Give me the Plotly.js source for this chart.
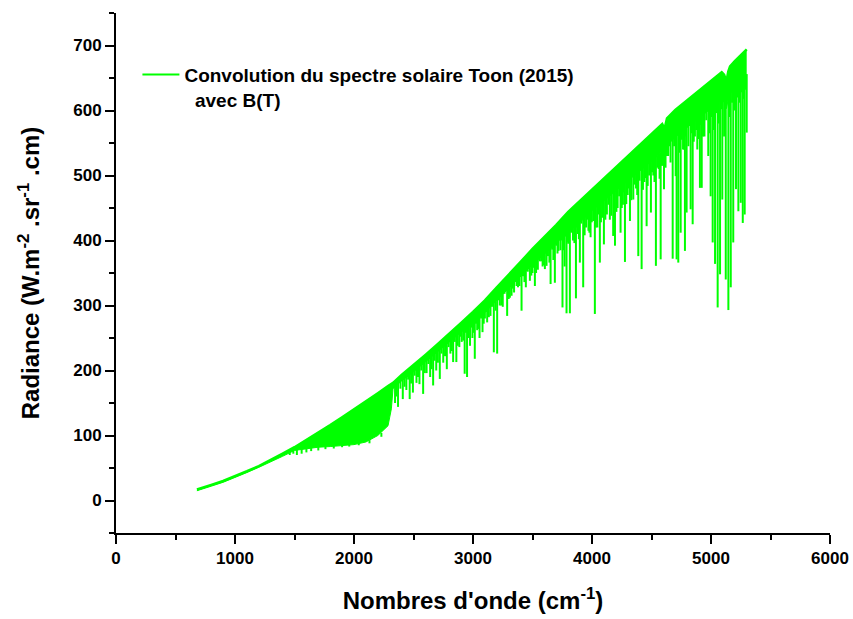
<!DOCTYPE html>
<html>
<head>
<meta charset="utf-8">
<script src="https://cdn.plot.ly/plotly-3.0.1.min.js"></script>
<style>html,body{margin:0;padding:0;background:#fff;}#chart{width:853px;height:619px;}</style>
</head>
<body>
<div id="chart"></div>
<script>
// Spectrum envelope (upper) and dense-band lower edge, wavenumber in cm-1
const bandX = [680,700,800,900,1000,1100,1200,1300,1400,1500,1600,1700,1800,1900,2000,2100,2200,2286,2314,2328,2400,2500,2600,2700,2800,2900,3000,3100,3200,3300,3400,3500,3600,3700,3800,3900,4000,4100,4200,4300,4400,4500,4590,4610,4630,4700,4800,4900,5000,5090,5110,5130,5145,5160,5200,5250,5300];
const bandTop = [17,18,24,30,37,45,53,62,72,82,93,104,116,128,140,152,165,176,180,181,193,208,224,240,256,273,290,308,328,347,367,387,405,424,444,461,478,495,512,530,547,564,579,572,588,601,616,630,645,659,655,645,660,668,676,685,694];
const bandLow = [15,16,22,28,35,43,51,59,68,77,80,82,83,85,86,90,100,115,141,172,184,198,213,228,243,259,272,289,308,326,345,363,379,396,413,428,446,461,476,492,507,522,537,530,546,559,574,588,603,617,613,603,618,626,634,643,650];

// Strong absorption lines: position, top of line, bottom of line
const lineX = [1460,1490,1520,1560,1600,1640,1700,1760,1830,1900,1960,2040,2130,2230,
2345,2370,2410,2440,2468,2495,2525,2550,2581,2610,2640,2665,2691,2721,2750,2780,2810,2833,2860,2885,2905,2930,2950,2975,2995,
3015,3035,3055,3080,3100,3119,3147,3175,3203,3225,3250,3287,3324,3345,3366,3390,3408,3444,3478,3500,3520,3545,3562,3585,3604,3618,3652,3688,3710,3735,3752,3770,3786,3800,3814,3840,3865,3880,3898,3926,3950,3970,3988,
4010,4024,4045,4066,4085,4100,4125,4150,4178,4193,4215,4240,4260,4277,4300,4319,4347,4370,4389,4417,4440,4459,4480,4495,4515,4537,4560,4577,4592,4605,4630,4650,4678,4703,4711,4725,4745,4765,4781,4795,4829,4846,4865,4885,4907,4922,4945,4977,4997,
5014,5034,5056,5076,5095,5110,5124,5146,5166,5187,5210,5230,5250,5267,5283,5300];
const lineTop = [74,78,79,80,81,81,83,84,85,86,87,89,93,104,
180,182,190,194,198,202,205,208,213,218,222,226,230,235,239,243,248,251,255,259,263,267,270,274,277,
280,283,286,290,294,298,303,308,314,318,322,328,334,338,342,348,352,360,366,369,372,376,378,382,386,388,393,400,404,408,411,414,417,419,421,425,429,431,434,438,441,444,447,
450,453,456,459,462,464,468,471,475,477,480,484,487,490,494,497,502,505,508,512,516,519,522,524,527,530,533,535,540,536,550,556,560,566,568,570,572,575,577,579,584,586,589,592,595,597,600,604,608,
610,613,616,619,622,618,612,622,630,636,639,643,648,651,654,656];
const lineDepth = [70,72,70,72,74,76,77,79,80,82,83,85,88,98,
150,144,156,170,156,166,181,179,164,196,190,177,200,187,212,202,226,213,213,236,244,195,190,238,250,
218,262,250,259,280,274,284,228,226,300,298,284,315,320,330,330,292,328,338,350,330,355,368,360,356,361,333,335,380,385,297,360,288,395,288,400,311,410,366,328,420,415,405,
430,287,420,366,435,394,440,432,407,392,450,412,455,367,470,430,463,480,376,356,490,422,500,443,500,361,510,371,515,479,530,545,372,499,371,366,412,540,384,443,448,425,560,540,481,481,560,530,468,
397,364,297,348,463,560,340,293,328,397,479,445,458,427,440,566];

// Weak absorption lines: position, top of line, bottom of line
const weakX = [2355,2390,2425,2455,2480,2510,2538,2565,2595,2625,2652,2678,2705,2735,2765,2795,2822,2847,2872,2895,2918,2940,2962,2985,3005,3025,3045,3068,3090,3110,3133,3160,3190,3214,3238,3265,3300,
3310,3335,3378,3420,3432,3460,3490,3510,3530,3575,3595,3630,3642,3665,3675,3700,3718,3745,3760,3778,3792,3825,3852,3872,3890,3910,3938,3960,3978,3998,
4017,4033,4055,4075,4092,4112,4138,4162,4185,4205,4228,4250,4268,4288,4310,4330,4358,4380,4400,4428,4450,4468,4505,4525,4548,4568,4585,
4618,4640,4660,4690,4735,4755,4773,4788,4810,4838,4855,4875,4895,4915,4933,4960,4987,5005,5025,5045,5066,5085,5155,5177,5198,5220,5240,5258,5275,5292];
const weakTop = [180,185,192,196,199,203,206,210,215,220,224,228,232,237,241,246,250,253,257,261,265,268,272,275,279,282,285,288,292,296,300,305,311,316,320,325,330,
332,336,345,355,357,363,368,370,374,380,384,390,392,396,398,402,405,410,412,416,418,423,427,430,433,436,440,443,446,449,
452,454,458,460,463,466,470,473,476,479,482,486,488,492,495,499,503,506,509,514,517,520,525,528,531,534,537,
540,552,557,562,571,574,576,578,581,585,588,590,593,596,598,602,606,609,612,614,617,620,626,633,638,641,645,650,652,655];
const weakDepth = [160,172,175,186,180,192,190,200,196,210,202,215,212,226,222,236,230,244,238,252,246,258,250,266,258,272,264,280,272,290,282,298,292,308,300,318,310,
312,326,328,345,336,352,346,358,350,368,362,376,366,386,370,392,384,400,385,406,398,412,396,420,402,426,408,432,412,428,
432,420,440,428,450,432,455,438,462,444,468,450,474,456,480,462,486,470,492,478,496,484,505,490,512,495,515,
512,530,520,545,535,555,540,560,545,565,552,570,556,578,560,585,565,590,570,596,580,602,590,612,600,620,612,628,618,632];

const green = '#00ff00';
const fontFam = 'Arial, "Liberation Sans", Helvetica, sans-serif';

function segments(xs, tops, bottoms) {
  const sx = [], sy = [];
  for (let i = 0; i < xs.length; i++) {
    sx.push(xs[i], xs[i], null);
    sy.push(tops[i], bottoms[i], null);
  }
  return {sx, sy};
}
const strong = segments(lineX, lineTop, lineDepth);
const weak = segments(weakX, weakTop, weakDepth);

const traces = [
  {x: bandX, y: bandLow, mode: 'lines', line: {color: green, width: 1}, showlegend: false, hoverinfo: 'skip'},
  {x: bandX, y: bandTop, mode: 'lines', fill: 'tonexty', fillcolor: green, line: {color: green, width: 2.5}, showlegend: false, hoverinfo: 'skip'},
  {x: weak.sx, y: weak.sy, mode: 'lines', line: {color: green, width: 2}, connectgaps: false, showlegend: false, hoverinfo: 'skip'},
  {x: strong.sx, y: strong.sy, mode: 'lines', line: {color: green, width: 2}, connectgaps: false,
   name: 'Convolution du spectre solaire Toon (2015)<br>&nbsp;&nbsp;avec B(T)', showlegend: true}
];

const layout = {
  width: 853, height: 619,
  margin: {l: 116, r: 23, t: 13, b: 86},
  paper_bgcolor: '#fff', plot_bgcolor: '#fff',
  font: {family: fontFam, color: '#000', weight: 'bold'},
  showlegend: true,
  legend: {x: 0.03, y: 0.918, xanchor: 'left', yanchor: 'top', valign: 'top', itemwidth: 37,
    bgcolor: 'rgba(0,0,0,0)', borderwidth: 0, tracegroupgap: 0,
    font: {family: fontFam, size: 19, color: '#000', weight: 'bold'}},
  xaxis: {
    range: [0, 6000], showgrid: false, zeroline: false,
    showline: true, linecolor: '#000', linewidth: 2, mirror: false,
    ticks: 'outside', ticklen: 9, tickwidth: 2, tickcolor: '#000',
    dtick: 1000, tick0: 0,
    tickfont: {family: fontFam, size: 17, color: '#000', weight: 'bold'},
    minor: {dtick: 500, ticks: 'outside', ticklen: 5, tickwidth: 2, tickcolor: '#000', showgrid: false},
    title: {text: "Nombres d'onde (cm<sup>-1</sup>)", font: {family: fontFam, size: 24, color: '#000', weight: 'bold'}, standoff: 25}
  },
  yaxis: {
    range: [-50, 750], showgrid: false, zeroline: false,
    showline: true, linecolor: '#000', linewidth: 2, mirror: false,
    ticks: 'outside', ticklen: 9, tickwidth: 2, tickcolor: '#000',
    dtick: 100, tick0: 0,
    tickfont: {family: fontFam, size: 17, color: '#000', weight: 'bold'},
    minor: {dtick: 50, ticks: 'outside', ticklen: 5, tickwidth: 2, tickcolor: '#000', showgrid: false},
    title: {text: 'Radiance (W.m<sup>-2</sup> .sr<sup>-1</sup> .cm)', font: {family: fontFam, size: 24, color: '#000', weight: 'bold'}, standoff: 27}
  }
};

Plotly.newPlot('chart', traces, layout, {displayModeBar: false, staticPlot: true});
</script>
</body>
</html>
